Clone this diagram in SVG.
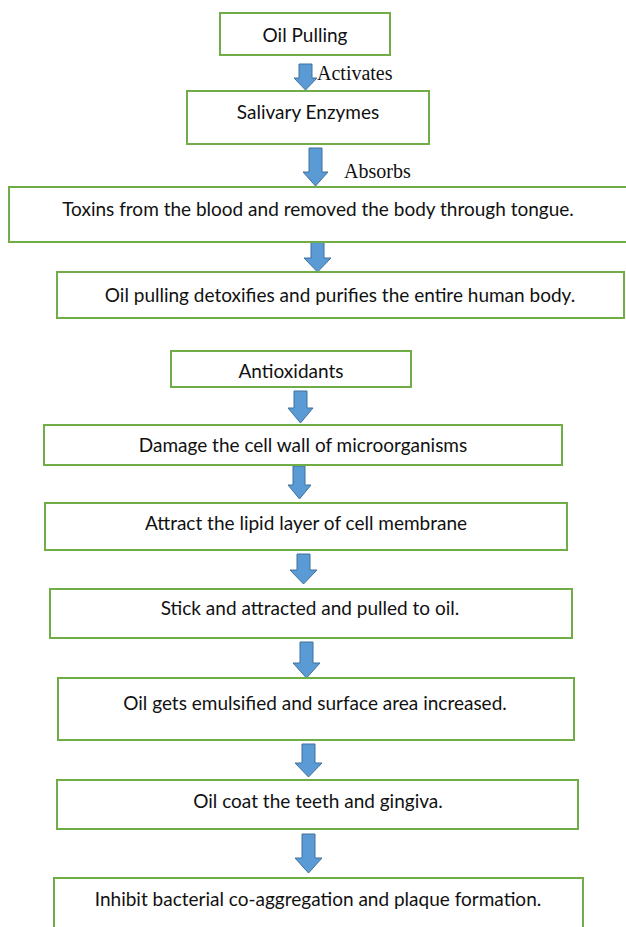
<svg xmlns="http://www.w3.org/2000/svg" width="626" height="927" viewBox="0 0 626 927">
<defs>
<style>
.box{fill:#fff;stroke:#70ad47;stroke-width:2}
.t{font-family:Lato,"Liberation Sans",sans-serif;font-size:19px;fill:#111;text-anchor:middle;dominant-baseline:central}
.lbl{font-family:"Liberation Serif",serif;font-size:20px;fill:#111}
.arr{fill:#5b9bd5;stroke:#41719c;stroke-width:1}
</style>
</defs>
<rect width="626" height="927" fill="#fff"/>
<g id="connectors">
<polygon class="arr" points="299,64 312,64 312,78 317,78 305.5,90 294,78 299,78"/>
<polygon class="arr" points="309,148 322,148 322,172 328,172 315.5,186 303,172 309,172"/>
<polygon class="arr" points="311,242 324,242 324,258 331,258 317.5,272 304,258 311,258"/>
<polygon class="arr" points="294,391 307,391 307,408 313,408 300.5,423 288,408 294,408"/>
<polygon class="arr" points="293,466 305,466 305,485 311,485 299.5,499 288,485 293,485"/>
<polygon class="arr" points="297,554 310,554 310,570 317,570 303.5,584 290,570 297,570"/>
<polygon class="arr" points="300,642 313,642 313,663 320,663 306.5,678 293,663 300,663"/>
<polygon class="arr" points="302,744 315,744 315,763 322,763 308.5,777 295,763 302,763"/>
<polygon class="arr" points="302,834 315,834 315,858 322,858 308.5,873 295,858 302,858"/>
<text class="lbl" x="317" y="80">Activates</text>
<text class="lbl" x="344" y="178">Absorbs</text>
</g>
<g id="n1"><rect class="box" x="220" y="13" width="170" height="42"/><text class="t" x="305" y="34">Oil Pulling</text></g>
<g id="n2"><rect class="box" x="187" y="91" width="242" height="53"/><text class="t" x="308" y="111">Salivary Enzymes</text></g>
<g id="n3"><rect class="box" x="9" y="187" width="620" height="55"/><text class="t" x="318" y="208">Toxins from the blood and removed the body through tongue.</text></g>
<g id="n4"><rect class="box" x="57" y="272" width="567" height="46"/><text class="t" x="340" y="294">Oil pulling detoxifies and purifies the entire human body.</text></g>
<g id="n5"><rect class="box" x="171" y="351" width="240" height="36"/><text class="t" x="291" y="370">Antioxidants</text></g>
<g id="n6"><rect class="box" x="44" y="425" width="518" height="40"/><text class="t" x="303" y="444">Damage the cell wall of microorganisms</text></g>
<g id="n7"><rect class="box" x="45" y="503" width="522" height="47"/><text class="t" x="306" y="522">Attract the lipid layer of cell membrane</text></g>
<g id="n8"><rect class="box" x="50" y="589" width="522" height="49"/><text class="t" x="310" y="607">Stick and attracted and pulled to oil.</text></g>
<g id="n9"><rect class="box" x="58" y="678" width="516" height="62"/><text class="t" x="315" y="702">Oil gets emulsified and surface area increased.</text></g>
<g id="n10"><rect class="box" x="57" y="780" width="521" height="49"/><text class="t" x="318" y="800">Oil coat the teeth and gingiva.</text></g>
<g id="n11"><rect class="box" x="54" y="878" width="529" height="60"/><text class="t" x="318" y="898">Inhibit bacterial co-aggregation and plaque formation.</text></g>
</svg>
